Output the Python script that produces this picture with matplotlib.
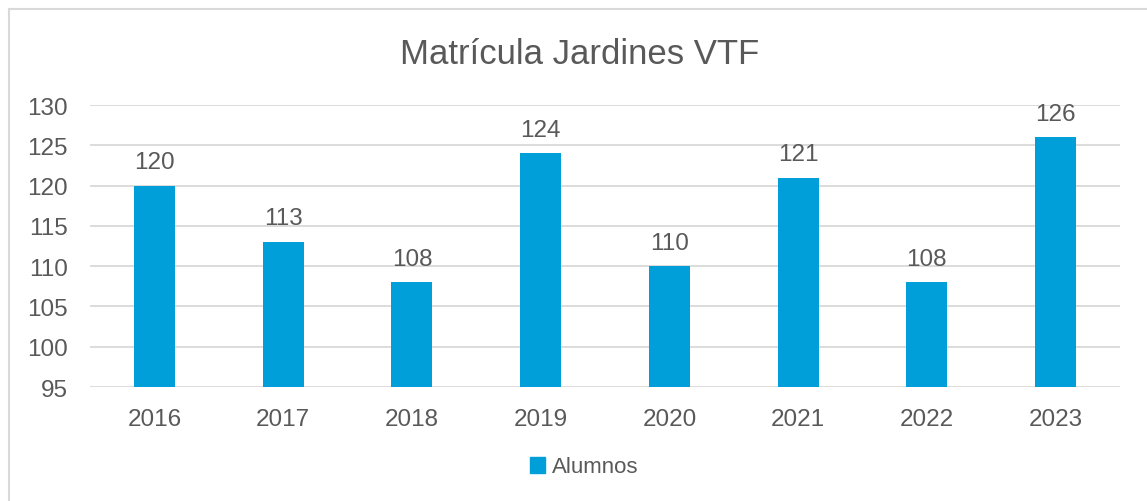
import matplotlib
matplotlib.use("Agg")
import matplotlib.pyplot as plt
from matplotlib.patches import Rectangle
from matplotlib.lines import Line2D

years = ["2016", "2017", "2018", "2019", "2020", "2021", "2022", "2023"]
alumnos = [120, 113, 108, 124, 110, 121, 108, 126]
yticks = [95, 100, 105, 110, 115, 120, 125, 130]
title = "Matrícula Jardines VTF"
series_name = "Alumnos"

W, H = 1147, 502
BAR = "#009FDA"
TXT = "#595959"
GRID = "#D9D9D9"

plt.rcParams['font.family'] = ['Liberation Sans', 'DejaVu Sans']

fig = plt.figure(figsize=(W / 100, H / 100), dpi=100)
fig.patch.set_facecolor("white")

# chart border (only top/left visible in reference)
fig.add_artist(Line2D([9 / W, 9 / W], [0, 1 - 10 / H], transform=fig.transFigure,
                      color=GRID, lw=1.5))
fig.add_artist(Line2D([9 / W, 1], [1 - 10 / H, 1 - 10 / H], transform=fig.transFigure,
                      color=GRID, lw=1.5))

ax = fig.add_axes([90 / W, (H - 388) / H, 1030 / W, 282 / H])
x = list(range(len(years)))
bars = ax.bar(x, alumnos, width=0.32, color=BAR, zorder=3, bottom=0)
ax.set_xlim(-0.5, len(years) - 0.5)
ax.set_ylim(95, 130)
ax.set_yticks(yticks)
ax.set_yticklabels([str(v) for v in yticks])
ax.set_xticks(x)
ax.set_xticklabels(years)
ax.grid(axis="y", color=GRID, lw=1.3, zorder=0)
for s in ax.spines.values():
    s.set_visible(False)
ax.tick_params(axis="both", length=0, labelsize=17.5, colors=TXT)
ax.tick_params(axis="y", pad=16)
ax.tick_params(axis="x", pad=15)

for xi, v in zip(x, alumnos):
    ax.annotate(str(v), (xi, v), xytext=(0, 9), textcoords="offset points",
                ha="center", va="bottom", fontsize=17.5, color=TXT)

fig.text(580 / W, 1 - 54 / H, title, ha="center", va="center", fontsize=25, color=TXT)

leg = fig.legend([Rectangle((0, 0), 1, 1, color=BAR)], [series_name],
                 loc="center", bbox_to_anchor=(584 / W, 1 - 468 / H), frameon=False,
                 fontsize=16, handlelength=0.7, handleheight=0.7, handletextpad=0.3,
                 labelcolor=TXT)

fig.savefig("out.png", dpi=100, facecolor="white")
